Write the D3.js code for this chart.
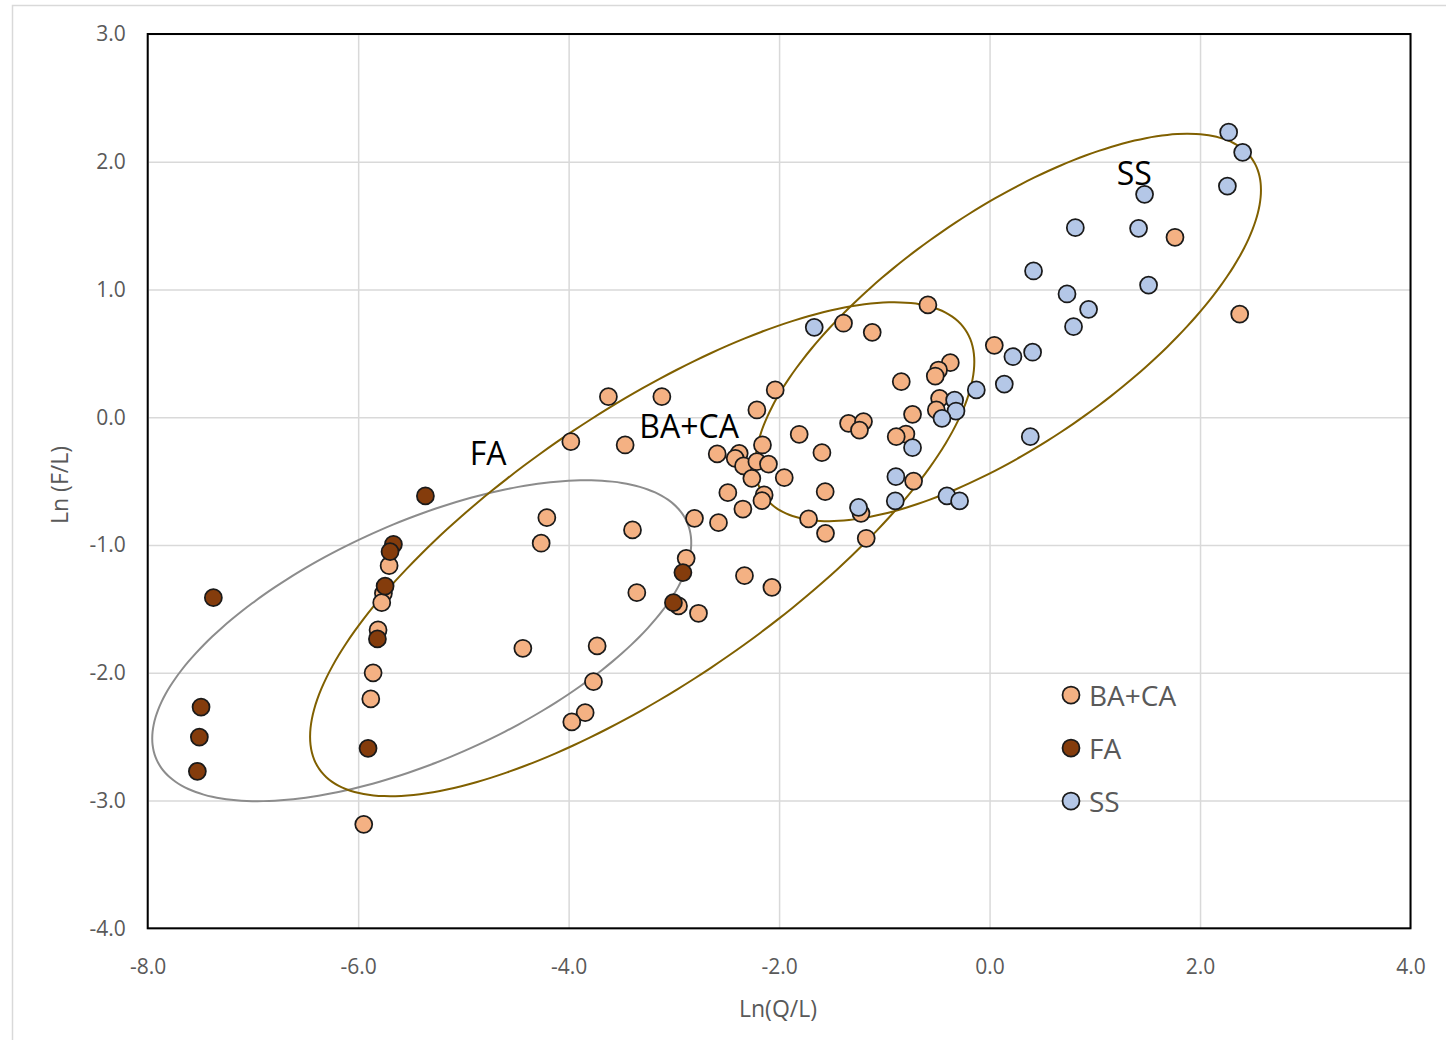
<!DOCTYPE html>
<html>
<head>
<meta charset="utf-8">
<script src="https://cdn.jsdelivr.net/npm/d3@7"></script>
<style>
  body { margin: 0; background: #fff; }
  svg { font-family: "Open Sans", "Noto Sans", sans-serif; }
</style>
</head>
<body>
<div id="chart"></div>
<script>
// series: x = Ln(Q/L), y = Ln(F/L)
let baX = [-5.706, -5.760, -5.776, -5.811, -5.858, -5.880, -5.947,
  -3.622, -3.114, -3.979, -3.463, -4.207, -4.261, -3.393, -2.804, -2.883, -3.352, -2.956, -2.766,
  -4.435, -3.729, -3.764, -3.843, -3.970,
  -2.037, -2.211, -1.809, -1.593, -2.588, -2.379, -2.417, -2.338, -2.158, -2.211, -2.101, -2.259,
  -1.951, -1.562, -2.487, -2.142, -2.163, -2.344, -1.720, -1.559, -2.576, -2.329, -2.068,
  -1.388, -1.115, -0.586, 0.045, -0.373, -0.485, -0.516, -0.839, -0.475, -0.506, -0.732,
  -1.340, -1.198, -1.236, -0.795, -0.887, -0.722, -1.222, -1.172, 1.762, 2.377];
let baY = [-1.162, -1.378, -1.451, -1.665, -2.000, -2.205, -3.186,
  0.161, 0.161, -0.191, -0.217, -0.786, -0.986, -0.882, -0.791, -1.104, -1.373, -1.477, -1.534,
  -1.808, -1.790, -2.070, -2.312, -2.385,
  0.214, 0.057, -0.133, -0.277, -0.287, -0.282, -0.321, -0.381, -0.217, -0.348, -0.366, -0.478,
  -0.473, -0.582, -0.590, -0.608, -0.653, -0.718, -0.796, -0.908, -0.825, -1.240, -1.331,
  0.736, 0.665, 0.879, 0.563, 0.427, 0.370, 0.323, 0.279, 0.148, 0.057, 0.023,
  -0.047, -0.034, -0.100, -0.131, -0.152, -0.499, -0.752, -0.947, 1.409, 0.808];

let faX = [-7.376, -7.493, -7.509, -7.528, -5.906, -5.817, -5.744, -5.665, -5.697, -5.361, -2.914, -3.004];
let faY = [-1.412, -2.268, -2.503, -2.771, -2.591, -1.735, -1.321, -0.994, -1.052, -0.616, -1.216, -1.451];

let ssX = [-1.666, 0.222, 0.140, -0.126, -0.332, -0.319, -0.452, -0.732, -0.890, -0.405, -0.285, -0.896, -1.245,
  2.272, 2.405, 2.260, 1.473, 0.815, 1.416, 0.418, 1.511, 0.736, 0.941, 0.798, 0.409, 0.387];
let ssY = [0.704, 0.474, 0.260, 0.214, 0.135, 0.049, -0.008, -0.238, -0.465, -0.616, -0.655, -0.655, -0.705,
  2.231, 2.074, 1.810, 1.745, 1.484, 1.479, 1.145, 1.035, 0.965, 0.845, 0.709, 0.509, -0.152];

let seriesNames = ["BA+CA", "FA", "SS"];

// ellipses: centre, half x-extent, half y-extent, correlation
let ellipseNames = ["FA", "BA+CA", "SS"];
let ellCx = [-5.396, -3.301, 0.176];
let ellCy = [-1.749, -1.033, 0.703];
let ellRx = [2.561, 3.156, 2.403];
let ellRy = [1.256, 1.933, 1.516];
let ellRho = [0.609, 0.759, 0.710];

// group labels inside the plot
let labelText = ["FA", "BA+CA", "SS"];
let labelX = [-4.765, -2.855, 1.376];
let labelY = [-0.272, -0.068, 1.912];

let xTicks = [-8, -6, -4, -2, 0, 2, 4];
let yTicks = [-4, -3, -2, -1, 0, 1, 2, 3];

////////////////////////////////////////////////////////////////////////

let width = 1446;
let height = 1040;
let plotL = 147.7, plotR = 1410.5, plotT = 34, plotB = 928.3;

let svg = d3.select("#chart")
  .append("svg")
  .attr("width", width).attr("height", height);

// outer chart frame
svg.append("rect")
  .attr("x", 12.5).attr("y", 5.5)
  .attr("width", 1450).attr("height", 1050)
  .attr("fill", "white")
  .attr("stroke", "#d9d9d9")
  .attr("stroke-width", 1.5);

let xScale = d3.scaleLinear().domain([-8, 4]).range([plotL, plotR]);
let yScale = d3.scaleLinear().domain([-4, 3]).range([plotB, plotT]);

let colScale = d3.scaleOrdinal()
  .domain(seriesNames)
  .range(["#f4b183", "#843c0c", "#b4c7e7"]);

// plain hyphen minus like the original, not the unicode minus
let fmt = d => d.toFixed(1);

// gridlines
svg.append("g")
  .attr("transform", `translate(0, ${plotB})`)
  .call(d3.axisBottom(xScale).tickValues(xTicks).tickSize(-(plotB - plotT)).tickFormat(""))
  .call(g => g.select(".domain").remove())
  .selectAll("line")
  .attr("stroke", "#d9d9d9")
  .attr("stroke-width", 1.5);

svg.append("g")
  .attr("transform", `translate(${plotL}, 0)`)
  .call(d3.axisLeft(yScale).tickValues(yTicks).tickSize(-(plotR - plotL)).tickFormat(""))
  .call(g => g.select(".domain").remove())
  .selectAll("line")
  .attr("stroke", "#d9d9d9")
  .attr("stroke-width", 1.5);

// tick labels
let xAxis = svg.append("g")
  .attr("transform", `translate(0, ${plotB})`)
  .call(d3.axisBottom(xScale).tickValues(xTicks).tickSize(0).tickPadding(31).tickFormat(fmt));
xAxis.select(".domain").remove();
xAxis.selectAll("text")
  .attr("fill", "#595959")
  .style("font-size", "21px")
  .style("font-family", "'Open Sans', sans-serif");

let yAxis = svg.append("g")
  .attr("transform", `translate(${plotL}, 0)`)
  .call(d3.axisLeft(yScale).tickValues(yTicks).tickSize(0).tickPadding(22).tickFormat(fmt));
yAxis.select(".domain").remove();
yAxis.selectAll("text")
  .attr("fill", "#595959")
  .style("font-size", "21px")
  .style("font-family", "'Open Sans', sans-serif");

// axis titles
svg.append("text")
  .attr("x", 778).attr("y", 1017)
  .attr("text-anchor", "middle")
  .attr("fill", "#595959")
  .style("font-size", "23px")
  .text("Ln(Q/L)");
svg.append("text")
  .attr("transform", "translate(68, 485) rotate(-90)")
  .attr("text-anchor", "middle")
  .attr("fill", "#595959")
  .style("font-size", "23px")
  .text("Ln (F/L)");

// ellipses, sampled in data units and mapped through the scales
let ts = d3.range(0, 360, 3).map(a => a * Math.PI / 180);
let ellLine = d3.line()
  .x(p => xScale(p[0]))
  .y(p => yScale(p[1]))
  .curve(d3.curveCardinalClosed);

let ellG = svg.append("g");
ellipseNames.forEach(function(name, i) {
  let pts = ts.map(t => [
    ellCx[i] + ellRx[i] * Math.cos(t),
    ellCy[i] + ellRy[i] * (ellRho[i] * Math.cos(t) + Math.sqrt(1 - ellRho[i] * ellRho[i]) * Math.sin(t))
  ]);
  ellG.append("path")
    .attr("d", ellLine(pts))
    .attr("fill", "none")
    .attr("stroke", name === "FA" ? "#8c8c8c" : "#806000")
    .attr("stroke-width", 2);
});

// plot frame
svg.append("rect")
  .attr("x", plotL).attr("y", plotT)
  .attr("width", plotR - plotL).attr("height", plotB - plotT)
  .attr("fill", "none")
  .attr("stroke", "black")
  .attr("stroke-width", 2);

// points: BA+CA, then FA, then SS on top
let seriesX = [baX, faX, ssX];
let seriesY = [baY, faY, ssY];
seriesNames.forEach(function(name, i) {
  svg.append("g")
    .selectAll("circle")
    .data(seriesX[i].map((x, j) => ({ x: x, y: seriesY[i][j] })))
    .enter()
    .append("circle")
    .attr("cx", d => xScale(d.x))
    .attr("cy", d => yScale(d.y))
    .attr("r", 8.5)
    .attr("fill", colScale(name))
    .attr("stroke", "#1a1a1a")
    .attr("stroke-width", 1.75);
});

// group labels
svg.append("g")
  .selectAll("text")
  .data(labelText)
  .enter()
  .append("text")
  .attr("x", (d, i) => xScale(labelX[i]))
  .attr("y", (d, i) => yScale(labelY[i]))
  .attr("text-anchor", "middle")
  .attr("dominant-baseline", "central")
  .attr("fill", "black")
  .style("font-size", "32px")
  .text(d => d);

// legend
let legend = svg.append("g")
  .selectAll("g")
  .data(seriesNames)
  .enter()
  .append("g")
  .attr("transform", (d, i) => `translate(1071, ${695 + i * 53})`);
legend.append("circle")
  .attr("r", 8.5)
  .attr("fill", d => colScale(d))
  .attr("stroke", "#1a1a1a")
  .attr("stroke-width", 1.75);
legend.append("text")
  .attr("x", 18)
  .attr("dominant-baseline", "central")
  .attr("fill", "#595959")
  .style("font-size", "28px")
  .text(d => d);
</script>
</body>
</html>
